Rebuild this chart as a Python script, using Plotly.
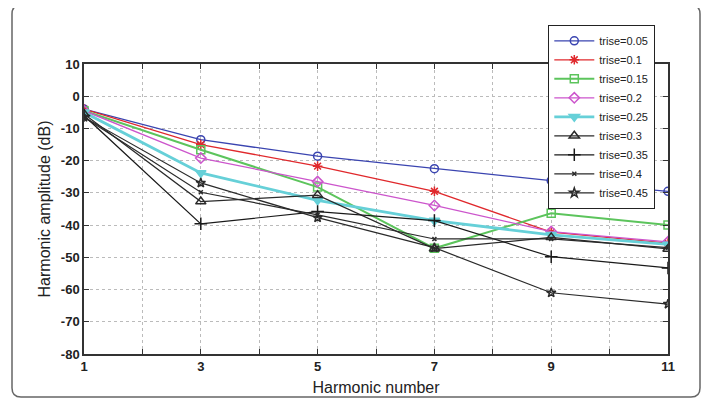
import plotly.graph_objects as go

harmonics = [1, 3, 5, 7, 9, 11]
x_tick_labels = ["1", "", "3", "", "5", "", "7", "", "9", "", "11"]
y_tick_values = [10, 0, -10, -20, -30, -40, -50, -60, -70, -80]
y_tick_labels = ["10", "0", "-10", "-20", "-30", "-40", "-50", "-60", "-70", "-80"]
labels = ["trise=0.05", "trise=0.1", "trise=0.15", "trise=0.2", "trise=0.25",
          "trise=0.3", "trise=0.35", "trise=0.4", "trise=0.45"]
t005 = [-4.0, -13.5, -18.6, -22.5, -26.2, -29.5]
t010 = [-4.0, -15.0, -21.7, -29.5, -42.2, -45.6]
t015 = [-4.5, -16.6, -28.2, -47.2, -36.3, -40.0]
t020 = [-4.5, -19.2, -26.5, -33.9, -42.0, -45.2]
t025 = [-5.0, -23.8, -32.3, -38.6, -43.0, -46.0]
t030 = [-5.5, -32.7, -30.7, -47.3, -43.8, -47.4]
t035 = [-6.0, -39.6, -35.8, -38.6, -49.8, -53.3]
t040 = [-6.5, -29.8, -36.8, -44.3, -44.3, -47.0]
t045 = [-6.5, -26.9, -37.7, -47.0, -61.0, -64.5]
series = [t005, t010, t015, t020, t025, t030, t035, t040, t045]

colors = ["#3a44b0", "#e0282c", "#5cc45c", "#cc55cc", "#66d0d8",
          "#2a2a2a", "#1a1a1a", "#2a2a2a", "#2a2a2a"]
symbols = ["circle-open", "asterisk-open", "square-open", "diamond-open",
           "triangle-down", "triangle-up-open", "cross-thin-open", "x-thin-open", "star-open"]
widths = [1.3, 1.3, 2.0, 1.3, 2.8, 1.2, 1.2, 1.2, 1.2]
msizes = [8, 8, 8, 8, 9, 9, 9, 4, 7]

fig = go.Figure()
for lab, ys, c, s, w, ms in zip(labels, series, colors, symbols, widths, msizes):
    fig.add_trace(go.Scatter(
        x=harmonics, y=ys, name=lab, mode="lines+markers",
        line=dict(color=c, width=w),
        marker=dict(symbol=s, size=ms, color=c, line=dict(color=c, width=1.5)),
    ))

# the page body has an 8px margin; work in page pixels and shift
OFF = 8
W, H = 710 - OFF, 405 - OFF
L, T = 84 - OFF, 64 - OFF
R = 710 - 668
B = 405 - 354
pw, ph = W - L - R, H - T - B


def px(x):
    return (x - OFF - L) / pw


def py(y):
    return (H - B - (y - OFF)) / ph


# rounded outer frame (page pixel coordinates)
x0, x1, y0, y1, r = 12, 700, 5, 397, 9
path = (f"M {px(x0 + r)},{py(y0)} L {px(x1 - r)},{py(y0)} "
        f"Q {px(x1)},{py(y0)} {px(x1)},{py(y0 + r)} "
        f"L {px(x1)},{py(y1 - r)} Q {px(x1)},{py(y1)} {px(x1 - r)},{py(y1)} "
        f"L {px(x0 + r)},{py(y1)} Q {px(x0)},{py(y1)} {px(x0)},{py(y1 - r)} "
        f"L {px(x0)},{py(y0 + r)} Q {px(x0)},{py(y0)} {px(x0 + r)},{py(y0)} Z")
fig.add_shape(type="path", path=path, xref="paper", yref="paper",
              line=dict(color="#666666", width=1.5), layer="below")

font_family = "Liberation Sans, Arial, sans-serif"

fig.update_layout(
    width=W, height=H,
    margin=dict(l=L, r=R, t=T, b=B, autoexpand=False),
    paper_bgcolor="white", plot_bgcolor="white",
    font=dict(family=font_family, color="#222222", size=13),
    showlegend=True,
    legend=dict(
        x=px(548), y=py(25), xanchor="left", yanchor="top",
        bgcolor="white", bordercolor="#222222", borderwidth=1.3,
        font=dict(size=11, color="#222222"),
        tracegroupgap=0, itemwidth=40,
    ),
    xaxis=dict(
        range=[1, 11], tickvals=list(range(1, 12)), ticktext=x_tick_labels,
        showgrid=True, gridcolor="#bbbbbb", griddash="dot", gridwidth=1,
        showline=True, linecolor="#333333", linewidth=1.5, mirror="ticks",
        ticks="inside", ticklen=5, tickcolor="#333333",
        zeroline=False,
        title=dict(text="Harmonic number", font=dict(size=16), standoff=8),
        tickfont=dict(size=13, weight="bold"),
    ),
    yaxis=dict(
        range=[-80, 10], tickvals=y_tick_values, ticktext=y_tick_labels,
        showgrid=True, gridcolor="#bbbbbb", griddash="dot", gridwidth=1,
        showline=True, linecolor="#333333", linewidth=1.5, mirror="ticks",
        ticks="inside", ticklen=5, tickcolor="#333333",
        zeroline=False,
        title=dict(text="Harmonic amplitude (dB)", font=dict(size=16), standoff=6),
        tickfont=dict(size=13, weight="bold"),
    ),
)

fig.write_html("out.html")
